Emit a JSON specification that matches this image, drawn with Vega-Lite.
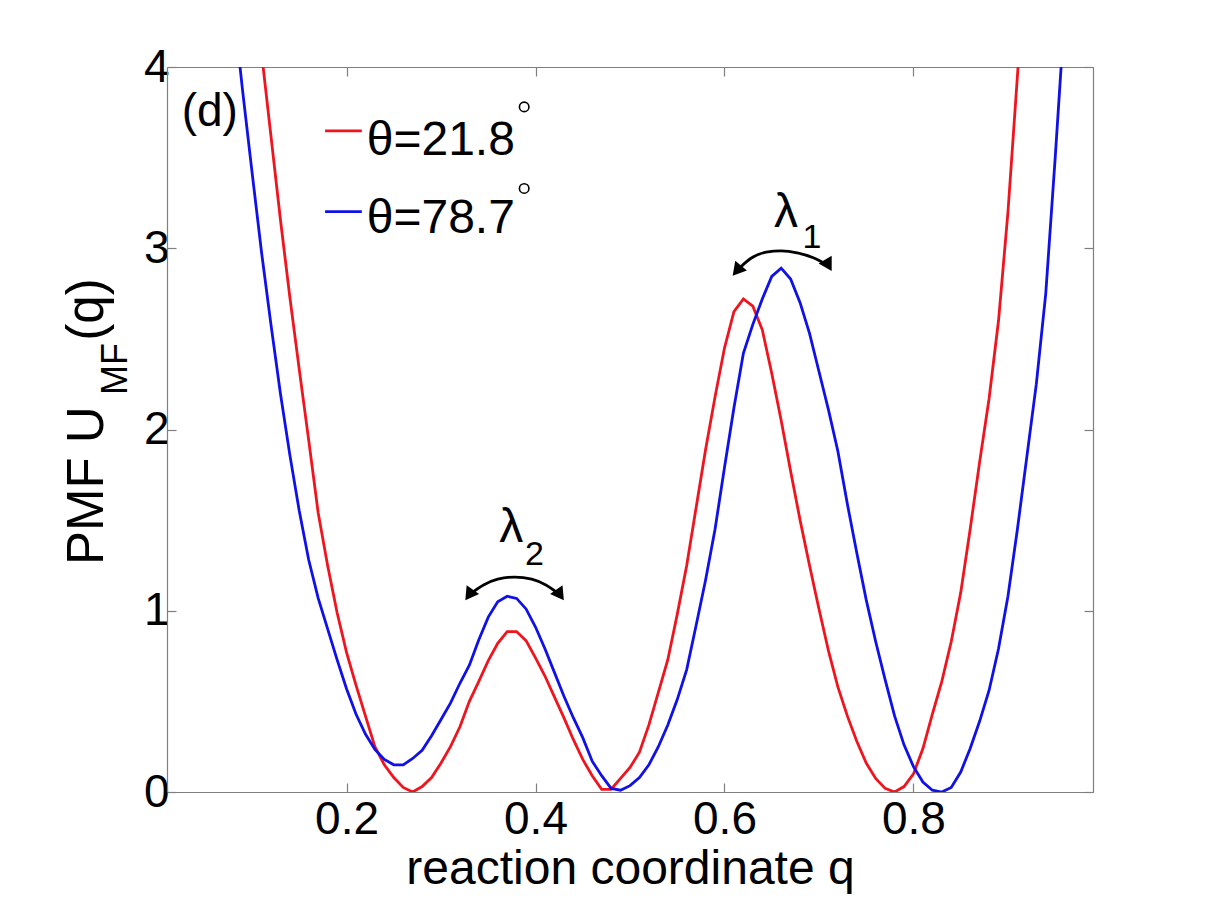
{
  "$schema": "https://vega.github.io/schema/vega-lite/v6.json",
  "width": 926,
  "height": 725,
  "autosize": "none",
  "padding": {"left": 167, "top": 67, "right": 126, "bottom": 122},
  "background": "white",
  "config": {
    "view": {"stroke": null},
    "font": "Liberation Sans",
    "axis": {
      "grid": false,
      "domainColor": "#7f7f7f",
      "domainWidth": 1.2,
      "tickColor": "#7f7f7f",
      "tickWidth": 1.2,
      "tickSize": -9,
      "labelFont": "Liberation Sans",
      "labelFontSize": 46,
      "labelColor": "black",
      "titleFont": "Liberation Sans",
      "titleFontSize": 48,
      "titleFontWeight": "normal",
      "titleColor": "black"
    }
  },
  "datasets": {
    "pmf": [
      {"q": 0.10, "U": 4.55, "theta": "21.8"}, {"q": 0.11, "U": 4.08, "theta": "21.8"},
      {"q": 0.12, "U": 3.62, "theta": "21.8"}, {"q": 0.13, "U": 3.16, "theta": "21.8"},
      {"q": 0.14, "U": 2.73, "theta": "21.8"}, {"q": 0.15, "U": 2.33, "theta": "21.8"},
      {"q": 0.16, "U": 1.94, "theta": "21.8"}, {"q": 0.17, "U": 1.54, "theta": "21.8"},
      {"q": 0.18, "U": 1.25, "theta": "21.8"}, {"q": 0.19, "U": 0.99, "theta": "21.8"},
      {"q": 0.20, "U": 0.77, "theta": "21.8"}, {"q": 0.21, "U": 0.59, "theta": "21.8"},
      {"q": 0.22, "U": 0.42, "theta": "21.8"}, {"q": 0.23, "U": 0.25, "theta": "21.8"},
      {"q": 0.24, "U": 0.15, "theta": "21.8"}, {"q": 0.25, "U": 0.08, "theta": "21.8"},
      {"q": 0.26, "U": 0.025, "theta": "21.8"}, {"q": 0.27, "U": 0.0, "theta": "21.8"},
      {"q": 0.28, "U": 0.03, "theta": "21.8"}, {"q": 0.29, "U": 0.08, "theta": "21.8"},
      {"q": 0.30, "U": 0.16, "theta": "21.8"}, {"q": 0.31, "U": 0.25, "theta": "21.8"},
      {"q": 0.32, "U": 0.36, "theta": "21.8"}, {"q": 0.33, "U": 0.50, "theta": "21.8"},
      {"q": 0.34, "U": 0.61, "theta": "21.8"}, {"q": 0.35, "U": 0.725, "theta": "21.8"},
      {"q": 0.36, "U": 0.82, "theta": "21.8"}, {"q": 0.37, "U": 0.885, "theta": "21.8"},
      {"q": 0.38, "U": 0.885, "theta": "21.8"}, {"q": 0.39, "U": 0.835, "theta": "21.8"},
      {"q": 0.40, "U": 0.74, "theta": "21.8"}, {"q": 0.41, "U": 0.64, "theta": "21.8"},
      {"q": 0.42, "U": 0.525, "theta": "21.8"}, {"q": 0.43, "U": 0.41, "theta": "21.8"},
      {"q": 0.44, "U": 0.29, "theta": "21.8"}, {"q": 0.45, "U": 0.18, "theta": "21.8"},
      {"q": 0.46, "U": 0.09, "theta": "21.8"}, {"q": 0.47, "U": 0.015, "theta": "21.8"},
      {"q": 0.48, "U": 0.015, "theta": "21.8"}, {"q": 0.49, "U": 0.075, "theta": "21.8"},
      {"q": 0.50, "U": 0.135, "theta": "21.8"}, {"q": 0.51, "U": 0.22, "theta": "21.8"},
      {"q": 0.52, "U": 0.37, "theta": "21.8"}, {"q": 0.53, "U": 0.55, "theta": "21.8"},
      {"q": 0.54, "U": 0.73, "theta": "21.8"}, {"q": 0.55, "U": 0.98, "theta": "21.8"},
      {"q": 0.56, "U": 1.25, "theta": "21.8"}, {"q": 0.57, "U": 1.57, "theta": "21.8"},
      {"q": 0.58, "U": 1.89, "theta": "21.8"}, {"q": 0.59, "U": 2.18, "theta": "21.8"},
      {"q": 0.60, "U": 2.45, "theta": "21.8"}, {"q": 0.61, "U": 2.65, "theta": "21.8"},
      {"q": 0.62, "U": 2.72, "theta": "21.8"}, {"q": 0.63, "U": 2.68, "theta": "21.8"},
      {"q": 0.64, "U": 2.55, "theta": "21.8"}, {"q": 0.65, "U": 2.31, "theta": "21.8"},
      {"q": 0.66, "U": 2.05, "theta": "21.8"}, {"q": 0.67, "U": 1.77, "theta": "21.8"},
      {"q": 0.68, "U": 1.50, "theta": "21.8"}, {"q": 0.69, "U": 1.25, "theta": "21.8"},
      {"q": 0.70, "U": 1.01, "theta": "21.8"}, {"q": 0.71, "U": 0.78, "theta": "21.8"},
      {"q": 0.72, "U": 0.58, "theta": "21.8"}, {"q": 0.73, "U": 0.42, "theta": "21.8"},
      {"q": 0.74, "U": 0.28, "theta": "21.8"}, {"q": 0.75, "U": 0.16, "theta": "21.8"},
      {"q": 0.76, "U": 0.075, "theta": "21.8"}, {"q": 0.77, "U": 0.02, "theta": "21.8"},
      {"q": 0.78, "U": 0.0, "theta": "21.8"}, {"q": 0.79, "U": 0.03, "theta": "21.8"},
      {"q": 0.80, "U": 0.10, "theta": "21.8"}, {"q": 0.81, "U": 0.24, "theta": "21.8"},
      {"q": 0.82, "U": 0.43, "theta": "21.8"}, {"q": 0.83, "U": 0.61, "theta": "21.8"},
      {"q": 0.84, "U": 0.83, "theta": "21.8"}, {"q": 0.85, "U": 1.10, "theta": "21.8"},
      {"q": 0.86, "U": 1.45, "theta": "21.8"}, {"q": 0.87, "U": 1.82, "theta": "21.8"},
      {"q": 0.88, "U": 2.17, "theta": "21.8"}, {"q": 0.89, "U": 2.60, "theta": "21.8"},
      {"q": 0.90, "U": 3.20, "theta": "21.8"}, {"q": 0.91, "U": 3.95, "theta": "21.8"},
      {"q": 0.92, "U": 4.70, "theta": "21.8"},

      {"q": 0.08, "U": 4.35, "theta": "78.7"}, {"q": 0.09, "U": 3.87, "theta": "78.7"},
      {"q": 0.10, "U": 3.42, "theta": "78.7"}, {"q": 0.11, "U": 2.98, "theta": "78.7"},
      {"q": 0.12, "U": 2.58, "theta": "78.7"}, {"q": 0.13, "U": 2.20, "theta": "78.7"},
      {"q": 0.14, "U": 1.86, "theta": "78.7"}, {"q": 0.15, "U": 1.55, "theta": "78.7"},
      {"q": 0.16, "U": 1.28, "theta": "78.7"}, {"q": 0.17, "U": 1.07, "theta": "78.7"},
      {"q": 0.18, "U": 0.90, "theta": "78.7"}, {"q": 0.19, "U": 0.73, "theta": "78.7"},
      {"q": 0.20, "U": 0.57, "theta": "78.7"}, {"q": 0.21, "U": 0.43, "theta": "78.7"},
      {"q": 0.22, "U": 0.32, "theta": "78.7"}, {"q": 0.23, "U": 0.235, "theta": "78.7"},
      {"q": 0.24, "U": 0.18, "theta": "78.7"}, {"q": 0.25, "U": 0.15, "theta": "78.7"},
      {"q": 0.26, "U": 0.15, "theta": "78.7"}, {"q": 0.27, "U": 0.185, "theta": "78.7"},
      {"q": 0.28, "U": 0.23, "theta": "78.7"}, {"q": 0.29, "U": 0.31, "theta": "78.7"},
      {"q": 0.30, "U": 0.40, "theta": "78.7"}, {"q": 0.31, "U": 0.49, "theta": "78.7"},
      {"q": 0.32, "U": 0.60, "theta": "78.7"}, {"q": 0.33, "U": 0.70, "theta": "78.7"},
      {"q": 0.34, "U": 0.84, "theta": "78.7"}, {"q": 0.35, "U": 0.965, "theta": "78.7"},
      {"q": 0.36, "U": 1.05, "theta": "78.7"}, {"q": 0.37, "U": 1.08, "theta": "78.7"},
      {"q": 0.38, "U": 1.068, "theta": "78.7"}, {"q": 0.39, "U": 1.01, "theta": "78.7"},
      {"q": 0.40, "U": 0.91, "theta": "78.7"}, {"q": 0.41, "U": 0.79, "theta": "78.7"},
      {"q": 0.42, "U": 0.66, "theta": "78.7"}, {"q": 0.43, "U": 0.53, "theta": "78.7"},
      {"q": 0.44, "U": 0.41, "theta": "78.7"}, {"q": 0.45, "U": 0.30, "theta": "78.7"},
      {"q": 0.46, "U": 0.17, "theta": "78.7"}, {"q": 0.47, "U": 0.09, "theta": "78.7"},
      {"q": 0.48, "U": 0.02, "theta": "78.7"}, {"q": 0.49, "U": 0.01, "theta": "78.7"},
      {"q": 0.50, "U": 0.035, "theta": "78.7"}, {"q": 0.51, "U": 0.08, "theta": "78.7"},
      {"q": 0.52, "U": 0.15, "theta": "78.7"}, {"q": 0.53, "U": 0.25, "theta": "78.7"},
      {"q": 0.54, "U": 0.37, "theta": "78.7"}, {"q": 0.55, "U": 0.51, "theta": "78.7"},
      {"q": 0.56, "U": 0.675, "theta": "78.7"}, {"q": 0.57, "U": 0.92, "theta": "78.7"},
      {"q": 0.58, "U": 1.17, "theta": "78.7"}, {"q": 0.59, "U": 1.45, "theta": "78.7"},
      {"q": 0.60, "U": 1.79, "theta": "78.7"}, {"q": 0.61, "U": 2.12, "theta": "78.7"},
      {"q": 0.62, "U": 2.42, "theta": "78.7"}, {"q": 0.63, "U": 2.58, "theta": "78.7"},
      {"q": 0.64, "U": 2.72, "theta": "78.7"}, {"q": 0.65, "U": 2.845, "theta": "78.7"},
      {"q": 0.66, "U": 2.89, "theta": "78.7"}, {"q": 0.67, "U": 2.83, "theta": "78.7"},
      {"q": 0.68, "U": 2.70, "theta": "78.7"}, {"q": 0.69, "U": 2.53, "theta": "78.7"},
      {"q": 0.70, "U": 2.32, "theta": "78.7"}, {"q": 0.71, "U": 2.11, "theta": "78.7"},
      {"q": 0.72, "U": 1.88, "theta": "78.7"}, {"q": 0.73, "U": 1.59, "theta": "78.7"},
      {"q": 0.74, "U": 1.32, "theta": "78.7"}, {"q": 0.75, "U": 1.06, "theta": "78.7"},
      {"q": 0.76, "U": 0.83, "theta": "78.7"}, {"q": 0.77, "U": 0.62, "theta": "78.7"},
      {"q": 0.78, "U": 0.42, "theta": "78.7"}, {"q": 0.79, "U": 0.26, "theta": "78.7"},
      {"q": 0.80, "U": 0.14, "theta": "78.7"}, {"q": 0.81, "U": 0.055, "theta": "78.7"},
      {"q": 0.82, "U": 0.01, "theta": "78.7"}, {"q": 0.83, "U": 0.0, "theta": "78.7"},
      {"q": 0.84, "U": 0.025, "theta": "78.7"}, {"q": 0.85, "U": 0.11, "theta": "78.7"},
      {"q": 0.86, "U": 0.24, "theta": "78.7"}, {"q": 0.87, "U": 0.39, "theta": "78.7"},
      {"q": 0.88, "U": 0.56, "theta": "78.7"}, {"q": 0.89, "U": 0.79, "theta": "78.7"},
      {"q": 0.90, "U": 1.08, "theta": "78.7"}, {"q": 0.91, "U": 1.45, "theta": "78.7"},
      {"q": 0.92, "U": 1.85, "theta": "78.7"}, {"q": 0.93, "U": 2.25, "theta": "78.7"},
      {"q": 0.94, "U": 2.75, "theta": "78.7"}, {"q": 0.95, "U": 3.50, "theta": "78.7"},
      {"q": 0.96, "U": 4.30, "theta": "78.7"}
    ],
    "legendKeys": [
      {"q1": 0.1773, "q2": 0.2162, "U": 3.648, "theta": "21.8"},
      {"q1": 0.1773, "q2": 0.2162, "U": 3.202, "theta": "78.7"}
    ],
    "labels": [
      {"q": 0.0255, "U": 3.674, "text": "(d)", "size": 46},
      {"q": 0.2214, "U": 3.514, "text": "θ=21.8", "size": 48},
      {"q": 0.2214, "U": 3.084, "text": "θ=78.7", "size": 48},
      {"q": 0.3615, "U": 1.379, "text": "λ", "size": 48},
      {"q": 0.389, "U": 1.252, "text": "2", "size": 34},
      {"q": 0.6525, "U": 3.12, "text": "λ", "size": 48},
      {"q": 0.6825, "U": 3.0, "text": "1", "size": 34}
    ],
    "degrees": [
      {"q": 0.388, "U": 3.78},
      {"q": 0.388, "U": 3.33}
    ],
    "yTitle": [
      {"q": -0.0578, "U": 1.252, "text": "PMF U", "size": 51},
      {"q": -0.0324, "U": 2.19, "text": "MF", "size": 36},
      {"q": -0.0578, "U": 2.49, "text": "(q)", "size": 51}
    ],
    "arcs": [
      {"arc": "l2", "q": 0.3297, "U": 1.087}, {"arc": "l2", "q": 0.345, "U": 1.142},
      {"arc": "l2", "q": 0.360, "U": 1.174}, {"arc": "l2", "q": 0.378, "U": 1.186},
      {"arc": "l2", "q": 0.396, "U": 1.174}, {"arc": "l2", "q": 0.411, "U": 1.142},
      {"arc": "l2", "q": 0.426, "U": 1.087},
      {"arc": "l1", "q": 0.6131, "U": 2.876}, {"arc": "l1", "q": 0.628, "U": 2.945},
      {"arc": "l1", "q": 0.644, "U": 2.978}, {"arc": "l1", "q": 0.660, "U": 2.986},
      {"arc": "l1", "q": 0.677, "U": 2.975}, {"arc": "l1", "q": 0.694, "U": 2.948},
      {"arc": "l1", "q": 0.710, "U": 2.906}
    ],
    "arrowHeads": [
      {"q": 0.3297, "U": 1.087, "angle": 215},
      {"q": 0.426, "U": 1.087, "angle": 145},
      {"q": 0.6131, "U": 2.876, "angle": 220},
      {"q": 0.710, "U": 2.906, "angle": 150}
    ]
  },
  "layer": [
    {
      "data": {"name": "pmf"},
      "mark": {"type": "line", "clip": true, "strokeWidth": 2.8},
      "encoding": {
        "x": {
          "field": "q", "type": "quantitative",
          "scale": {"domain": [0.01, 0.99], "nice": false, "zero": false},
          "axis": {
            "orient": "bottom", "values": [0.2, 0.4, 0.6, 0.8], "format": ".1f",
            "labelBaseline": "alphabetic", "labelPadding": 50,
            "title": "reaction coordinate q", "titlePadding": 3
          }
        },
        "y": {
          "field": "U", "type": "quantitative",
          "scale": {"domain": [0, 4], "nice": false, "zero": false},
          "axis": {"orient": "left", "values": [0, 1, 2, 3, 4], "labelPadding": 7, "title": null}
        },
        "color": {
          "field": "theta", "type": "nominal",
          "scale": {"domain": ["21.8", "78.7"], "range": ["#f0141e", "#1010e8"]},
          "legend": null
        },
        "detail": {"field": "theta"}
      }
    },
    {
      "data": {"name": "pmf"},
      "mark": {"type": "line", "strokeOpacity": 0, "clip": true},
      "encoding": {
        "x": {"field": "q", "type": "quantitative",
              "axis": {"orient": "top", "values": [0.2, 0.4, 0.6, 0.8], "labels": false, "title": null}},
        "y": {"field": "U", "type": "quantitative",
              "axis": {"orient": "right", "values": [0, 1, 2, 3, 4], "labels": false, "title": null}},
        "detail": {"field": "theta"}
      }
    },
    {
      "data": {"name": "legendKeys"},
      "mark": {"type": "rule", "strokeWidth": 2.8},
      "encoding": {
        "x": {"field": "q1", "type": "quantitative", "axis": null},
        "x2": {"field": "q2"},
        "y": {"field": "U", "type": "quantitative", "axis": null},
        "color": {"field": "theta", "type": "nominal", "legend": null}
      }
    },
    {
      "data": {"name": "labels"},
      "mark": {"type": "text", "align": "left", "baseline": "alphabetic", "color": "black", "font": "Liberation Sans", "clip": false},
      "encoding": {
        "x": {"field": "q", "type": "quantitative", "axis": null},
        "y": {"field": "U", "type": "quantitative", "axis": null},
        "text": {"field": "text"},
        "size": {"field": "size", "type": "quantitative", "scale": null}
      }
    },
    {
      "data": {"name": "degrees"},
      "mark": {"type": "point", "shape": "circle", "filled": false, "color": "black", "strokeWidth": 1.6, "size": 90, "opacity": 1},
      "encoding": {
        "x": {"field": "q", "type": "quantitative", "axis": null},
        "y": {"field": "U", "type": "quantitative", "axis": null}
      }
    },
    {
      "data": {"name": "yTitle"},
      "mark": {"type": "text", "align": "left", "baseline": "alphabetic", "angle": 270, "color": "black", "font": "Liberation Sans", "clip": false},
      "encoding": {
        "x": {"field": "q", "type": "quantitative", "axis": null},
        "y": {"field": "U", "type": "quantitative", "axis": null},
        "text": {"field": "text"},
        "size": {"field": "size", "type": "quantitative", "scale": null}
      }
    },
    {
      "data": {"name": "arcs"},
      "mark": {"type": "line", "color": "black", "strokeWidth": 2.8, "interpolate": "monotone"},
      "encoding": {
        "x": {"field": "q", "type": "quantitative", "axis": null},
        "y": {"field": "U", "type": "quantitative", "axis": null},
        "detail": {"field": "arc"}
      }
    },
    {
      "data": {"name": "arrowHeads"},
      "mark": {"type": "point", "shape": "triangle-up", "filled": true, "color": "black", "size": 230, "opacity": 1},
      "encoding": {
        "x": {"field": "q", "type": "quantitative", "axis": null},
        "y": {"field": "U", "type": "quantitative", "axis": null},
        "angle": {"field": "angle", "type": "quantitative", "scale": null}
      }
    }
  ],
  "resolve": {"axis": {"x": "independent", "y": "independent"}}
}
